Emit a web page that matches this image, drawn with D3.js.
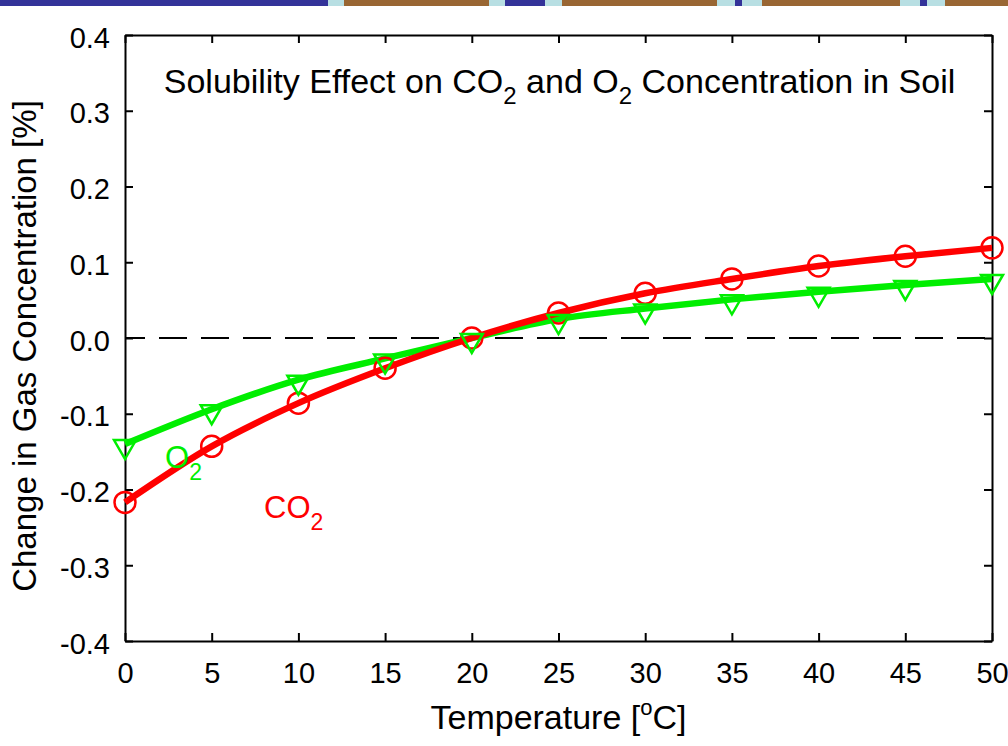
<!DOCTYPE html>
<html>
<head>
<meta charset="utf-8">
<script src="https://cdn.jsdelivr.net/npm/d3@7"></script>
<style>
  html, body { margin: 0; padding: 0; background: #fff; }
  svg { display: block; font-family: "Liberation Sans", Arial, Helvetica, sans-serif; }
</style>
</head>
<body>
<svg id="chart" width="1008" height="746"></svg>
<script>
// Temperatures (°C) and change in gas concentration (%) for each gas
const temperature = [0, 5, 10, 15, 20, 25, 30, 35, 40, 45, 50];
const co2Change = [-0.217, -0.143, -0.086, -0.040, 0.000, 0.033, 0.059, 0.078, 0.095, 0.108, 0.119];
const o2Change  = [-0.140, -0.094, -0.055, -0.027, 0.000, 0.025, 0.039, 0.051, 0.061, 0.070, 0.078];
const xTicks = [0, 5, 10, 15, 20, 25, 30, 35, 40, 45, 50];
const yTicks = [-0.4, -0.3, -0.2, -0.1, 0.0, 0.1, 0.2, 0.3, 0.4];

const svg = d3.select("#chart");
const W = 1008, H = 746;
const m = { left: 125, right: 16, top: 35, bottom: 105 };
const x = d3.scaleLinear().domain([0, 50]).range([m.left, W - m.right]);
const y = d3.scaleLinear().domain([-0.4, 0.4]).range([H - m.bottom, m.top]);

// Decorative header band
const band = svg.append("g");
const bandParts = [
  [0, 328, "#333399"], [328, 344, "#b8dfe3"], [344, 489, "#996633"], [489, 505, "#b8dfe3"],
  [505, 545, "#333399"], [545, 562, "#b8dfe3"], [562, 717, "#996633"], [717, 735, "#b8dfe3"],
  [735, 742, "#333399"], [742, 762, "#b8dfe3"], [762, 900, "#996633"], [900, 920, "#b8dfe3"],
  [920, 927, "#333399"], [927, 945, "#b8dfe3"], [945, 1008, "#996633"]
];
band.selectAll("rect").data(bandParts).join("rect")
  .attr("x", d => d[0]).attr("y", 0)
  .attr("width", d => d[1] - d[0]).attr("height", 6)
  .attr("fill", d => d[2]);

// Axes on all four sides with inward ticks
const tickLen = 8;
const fmtY = d => d3.format(".1f")(d).replace("−", "-");
const axisStyle = g => {
  g.select(".domain").attr("stroke", "#000").attr("stroke-width", 2);
  g.selectAll(".tick line").attr("stroke", "#000").attr("stroke-width", 2);
  g.selectAll("text").attr("font-size", 29).attr("fill", "#000");
};

svg.append("g").attr("transform", `translate(0,${y(-0.4)})`)
  .call(d3.axisBottom(x).tickValues(xTicks).tickSizeInner(-tickLen).tickSizeOuter(0).tickPadding(21))
  .call(axisStyle)
  .call(g => g.selectAll("text").attr("dy", "0.71em"));

svg.append("g").attr("transform", `translate(0,${y(0.4)})`)
  .call(d3.axisTop(x).tickValues(xTicks).tickSizeInner(-tickLen).tickSizeOuter(0).tickFormat(""))
  .call(axisStyle);

svg.append("g").attr("transform", `translate(${x(0)},0)`)
  .call(d3.axisLeft(y).tickValues(yTicks).tickSizeInner(-tickLen).tickSizeOuter(0).tickPadding(15).tickFormat(fmtY))
  .call(axisStyle)
  .call(g => g.selectAll("text").attr("dy", "0.42em"));

svg.append("g").attr("transform", `translate(${x(50)},0)`)
  .call(d3.axisRight(y).tickValues(yTicks).tickSizeInner(-tickLen).tickSizeOuter(0).tickFormat(""))
  .call(axisStyle);

// Zero reference line
svg.append("line")
  .attr("x1", x(0)).attr("x2", x(50))
  .attr("y1", y(0)).attr("y2", y(0))
  .attr("stroke", "#000").attr("stroke-width", 2)
  .attr("stroke-dasharray", "28,14").attr("stroke-dashoffset", 8);

const co2 = temperature.map((t, i) => ({ t, v: co2Change[i] }));
const o2 = temperature.map((t, i) => ({ t, v: o2Change[i] }));

const co2Color = "#ff0000", o2Color = "#00ee00";

// O2 series: line with downward triangles
svg.append("path").datum(o2)
  .attr("d", d3.line().x(d => x(d.t)).y(d => y(d.v)).curve(d3.curveMonotoneX))
  .attr("fill", "none").attr("stroke", o2Color).attr("stroke-width", 6.5)
  .attr("stroke-linejoin", "round");

// CO2 series: line with open circles
svg.append("path").datum(co2)
  .attr("d", d3.line().x(d => x(d.t)).y(d => y(d.v)).curve(d3.curveMonotoneX))
  .attr("fill", "none").attr("stroke", co2Color).attr("stroke-width", 6.5)
  .attr("stroke-linejoin", "round");

svg.append("g").selectAll("circle").data(co2).join("circle")
  .attr("cx", d => x(d.t)).attr("cy", d => y(d.v)).attr("r", 10.5)
  .attr("fill", "none").attr("stroke", co2Color).attr("stroke-width", 2.5);

svg.append("g").selectAll("path").data(o2).join("path")
  .attr("transform", d => `translate(${x(d.t)},${y(d.v)})`)
  .attr("d", "M-11,-4 L11,-4 L0,15 Z")
  .attr("fill", "none").attr("stroke", o2Color).attr("stroke-width", 2.5)
  .attr("stroke-linejoin", "miter");

// Title with subscripts
const title = svg.append("text")
  .attr("x", x(25) + 1).attr("y", 93)
  .attr("text-anchor", "middle").attr("font-size", 34).attr("fill", "#000");
title.append("tspan").text("Solubility Effect on CO");
title.append("tspan").text("2").attr("font-size", 24).attr("dy", 11);
title.append("tspan").text(" and O").attr("dy", -11);
title.append("tspan").text("2").attr("font-size", 24).attr("dy", 11);
title.append("tspan").text(" Concentration in Soil").attr("dy", -11);

// Series labels
const o2Label = svg.append("text").attr("x", 165).attr("y", 468)
  .attr("font-size", 31).attr("fill", o2Color);
o2Label.append("tspan").text("O");
o2Label.append("tspan").text("2").attr("font-size", 23).attr("dy", 12);

const co2Label = svg.append("text").attr("x", 264).attr("y", 518)
  .attr("font-size", 31).attr("fill", co2Color);
co2Label.append("tspan").text("CO");
co2Label.append("tspan").text("2").attr("font-size", 23).attr("dy", 12);

// Axis titles
const xTitle = svg.append("text")
  .attr("x", x(25)).attr("y", 729)
  .attr("text-anchor", "middle").attr("font-size", 34).attr("fill", "#000");
xTitle.append("tspan").text("Temperature [");
xTitle.append("tspan").text("o").attr("font-size", 22).attr("dy", -14);
xTitle.append("tspan").text("C]").attr("dy", 14);

svg.append("text")
  .attr("transform", `translate(36,346) rotate(-90)`)
  .attr("text-anchor", "middle").attr("font-size", 33).attr("fill", "#000")
  .text("Change in Gas Concentration [%]");
</script>
</body>
</html>
